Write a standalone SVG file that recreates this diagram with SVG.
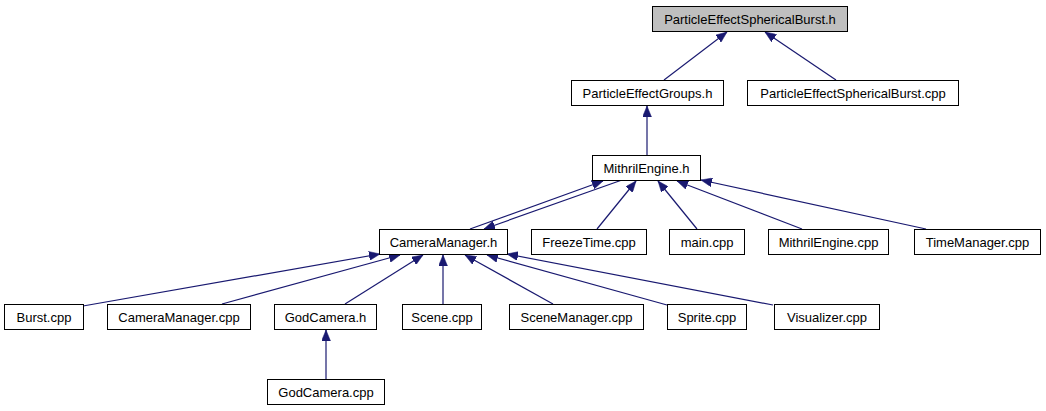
<svg xmlns="http://www.w3.org/2000/svg" width="1046" height="411" viewBox="0 0 1046 411">
<defs>
<style>
.node rect{fill:#ffffff;stroke:#000000;stroke-width:1}
.node.root rect{fill:#bfbfbf}
.node text{font-family:"Liberation Sans",Arial,sans-serif;font-size:13px;fill:#000000;text-anchor:middle}
#edges line{stroke:#191970;stroke-width:1.2;fill:none;marker-end:url(#ah)}
</style>
<marker id="ah" markerUnits="userSpaceOnUse" markerWidth="11" markerHeight="9" refX="11" refY="4.5" orient="auto">
<path d="M0,0 L11,4.5 L0,9 z" fill="#191970" stroke="#191970" stroke-width="0.5"/>
</marker>
</defs>
<rect width="1046" height="411" fill="#ffffff"/>
<g id="edges">
<line x1="664" y1="80" x2="727" y2="32"/>
<line x1="836" y1="80" x2="765" y2="32"/>
<line x1="647" y1="155" x2="647" y2="106"/>
<line x1="470" y1="229" x2="603" y2="181"/>
<line x1="622" y1="180" x2="484" y2="229"/>
<line x1="597" y1="229" x2="636" y2="181"/>
<line x1="697" y1="229" x2="658" y2="181"/>
<line x1="802" y1="229" x2="677" y2="181"/>
<line x1="926" y1="229" x2="701" y2="180"/>
<line x1="83" y1="306" x2="380" y2="254"/>
<line x1="222" y1="304" x2="400" y2="255"/>
<line x1="345" y1="304" x2="423" y2="255"/>
<line x1="443" y1="304" x2="443" y2="255"/>
<line x1="553" y1="304" x2="465" y2="255"/>
<line x1="667" y1="305" x2="487" y2="255"/>
<line x1="773" y1="305" x2="507" y2="254"/>
<line x1="326" y1="379" x2="326" y2="330"/>
</g>
<g id="n_pesb_h" class="node root"><rect x="652.5" y="6.5" width="195" height="25"/><text x="750" y="24">ParticleEffectSphericalBurst.h</text></g>
<g id="n_peg_h" class="node"><rect x="571.5" y="80.5" width="152" height="25"/><text x="647.5" y="98">ParticleEffectGroups.h</text></g>
<g id="n_pesb_cpp" class="node"><rect x="747.5" y="80.5" width="211" height="25"/><text x="853" y="98">ParticleEffectSphericalBurst.cpp</text></g>
<g id="n_mithril_h" class="node"><rect x="592.5" y="155.5" width="108" height="25"/><text x="646.5" y="173">MithrilEngine.h</text></g>
<g id="n_cm_h" class="node"><rect x="379.5" y="229.5" width="128" height="25"/><text x="443.5" y="247">CameraManager.h</text></g>
<g id="n_freeze" class="node"><rect x="531.5" y="229.5" width="115" height="25"/><text x="589" y="247">FreezeTime.cpp</text></g>
<g id="n_main" class="node"><rect x="669.5" y="229.5" width="75" height="25"/><text x="707" y="247">main.cpp</text></g>
<g id="n_mithril_cpp" class="node"><rect x="768.5" y="229.5" width="120" height="25"/><text x="828.5" y="247">MithrilEngine.cpp</text></g>
<g id="n_tm" class="node"><rect x="914.5" y="229.5" width="126" height="25"/><text x="977.5" y="247">TimeManager.cpp</text></g>
<g id="n_burst" class="node"><rect x="4.5" y="304.5" width="79" height="25"/><text x="44" y="322">Burst.cpp</text></g>
<g id="n_cm_cpp" class="node"><rect x="107.5" y="304.5" width="143" height="25"/><text x="179" y="322">CameraManager.cpp</text></g>
<g id="n_god_h" class="node"><rect x="274.5" y="304.5" width="102" height="25"/><text x="325.5" y="322">GodCamera.h</text></g>
<g id="n_scene" class="node"><rect x="402.5" y="304.5" width="79" height="25"/><text x="442" y="322">Scene.cpp</text></g>
<g id="n_scenemgr" class="node"><rect x="509.5" y="304.5" width="134" height="25"/><text x="576.5" y="322">SceneManager.cpp</text></g>
<g id="n_sprite" class="node"><rect x="667.5" y="304.5" width="79" height="25"/><text x="707" y="322">Sprite.cpp</text></g>
<g id="n_visualizer" class="node"><rect x="774.5" y="304.5" width="105" height="25"/><text x="827" y="322">Visualizer.cpp</text></g>
<g id="n_god_cpp" class="node"><rect x="267.5" y="379.5" width="117" height="25"/><text x="326" y="397">GodCamera.cpp</text></g>
</svg>
